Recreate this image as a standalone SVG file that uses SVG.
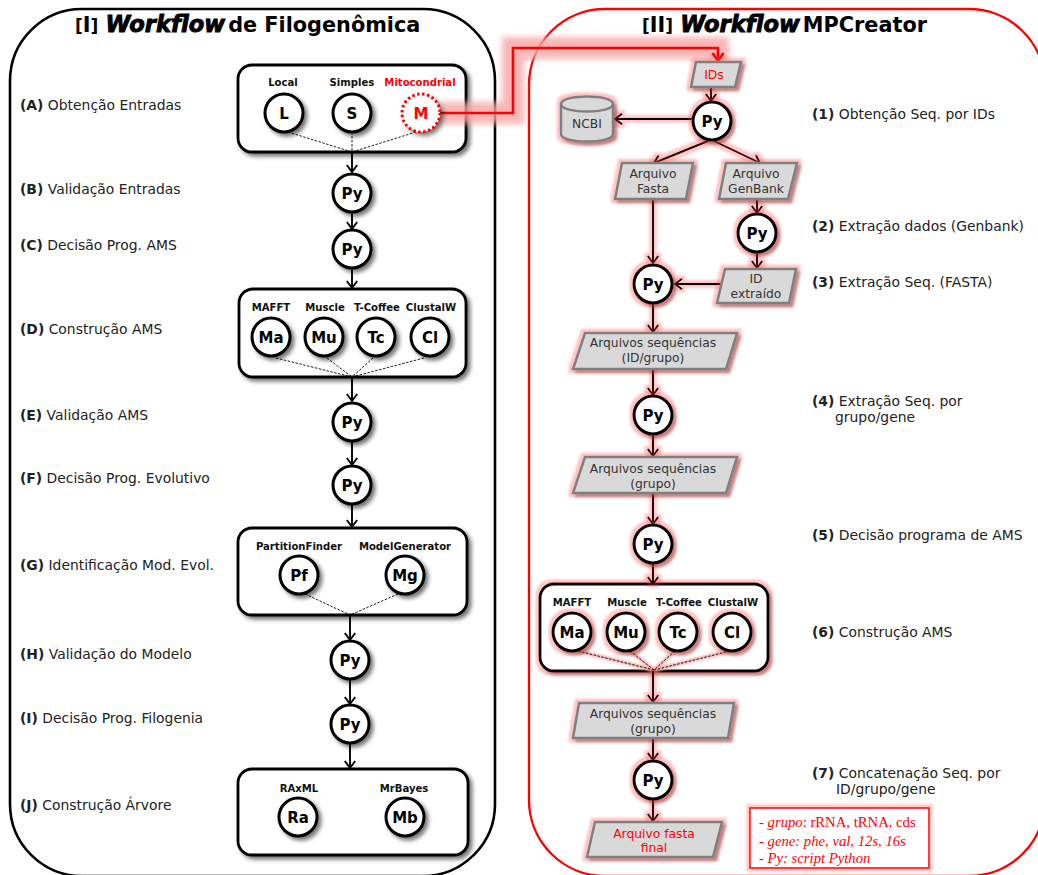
<svg xmlns="http://www.w3.org/2000/svg" width="1038" height="875" viewBox="0 0 1038 875">
<style>
text{font-family:"DejaVu Sans","Liberation Sans",sans-serif;fill:#222}
.title{font-size:20.8px;font-weight:bold;fill:#000}
.wf{font-size:22.6px;font-style:italic;font-weight:bold;stroke:#000;stroke-width:.9px}
.lab{font-size:13.9px}
.lab .b{font-weight:bold}
.tool{font-size:10.1px;font-weight:bold;text-anchor:middle;fill:#111}
.c{fill:#fff;stroke:#000;stroke-width:3}
.ct{font-size:15px;font-weight:bold;text-anchor:middle;fill:#000}
.box{fill:#fff;stroke:#000;stroke-width:2.8}
.file{fill:#d9d9d9;stroke:#7f7f7f;stroke-width:2.5}
.ft{font-size:12.3px;text-anchor:middle;fill:#333}
.red{fill:#f00}
.arrow{fill:none;stroke:#000;stroke-width:1.9;marker-end:url(#a)}
.dash{fill:none;stroke:#000;stroke-width:.9;stroke-dasharray:2.5 1.5}
.halo{fill:none;stroke:#f7b5b5;stroke-width:4;filter:url(#bs)}
.leg{font-family:"Liberation Serif",serif;font-size:14.7px;fill:#f00}
.leg .i{font-style:italic}
.s{filter:url(#sh)}
.g{filter:url(#gl)}
</style>
<defs>
<marker id="a" markerUnits="userSpaceOnUse" markerWidth="14" markerHeight="14" refX="10" refY="6" orient="auto">
<path d="M3 .8 L10 6 L3 11.2" fill="none" stroke="#000" stroke-width="1.9"/>
</marker>
<marker id="ar" markerUnits="userSpaceOnUse" markerWidth="16" markerHeight="16" refX="11" refY="7" orient="auto">
<path d="M3 1.5 L11 7 L3 12.5" fill="none" stroke="#f00" stroke-width="2.6"/>
</marker>
<filter id="sh" filterUnits="userSpaceOnUse" x="0" y="0" width="1038" height="875">
<feGaussianBlur in="SourceAlpha" stdDeviation="2"/>
<feOffset dx="3" dy="3"/>
<feComponentTransfer><feFuncA type="linear" slope=".55"/></feComponentTransfer>
<feMerge><feMergeNode/><feMergeNode in="SourceGraphic"/></feMerge>
</filter>
<filter id="gl" filterUnits="userSpaceOnUse" x="0" y="0" width="1038" height="875">
<feMorphology in="SourceAlpha" operator="dilate" radius="3" result="d"/>
<feGaussianBlur in="d" stdDeviation="1.3" result="b"/>
<feFlood flood-color="#f44" flood-opacity=".32"/>
<feComposite in2="b" operator="in" result="g"/>
<feGaussianBlur in="SourceAlpha" stdDeviation="1.6"/>
<feOffset dx="2.5" dy="2.5"/>
<feComponentTransfer result="s"><feFuncA type="linear" slope=".4"/></feComponentTransfer>
<feMerge><feMergeNode in="g"/><feMergeNode in="s"/><feMergeNode in="SourceGraphic"/></feMerge>
</filter>
<filter id="gl2" filterUnits="userSpaceOnUse" x="0" y="0" width="1038" height="875">
<feMorphology in="SourceAlpha" operator="dilate" radius="2.5" result="d"/>
<feGaussianBlur in="d" stdDeviation="1.3" result="b"/>
<feFlood flood-color="#f44" flood-opacity=".3"/>
<feComposite in2="b" operator="in" result="g"/>
<feMerge><feMergeNode in="g"/><feMergeNode in="SourceGraphic"/></feMerge>
</filter>
<filter id="bl" filterUnits="userSpaceOnUse" x="0" y="0" width="1038" height="875"><feGaussianBlur stdDeviation="3"/></filter>
<filter id="bs" filterUnits="userSpaceOnUse" x="0" y="0" width="1038" height="875"><feGaussianBlur stdDeviation="1"/></filter>
</defs>

<rect width="1038" height="875" fill="#fff"/>
<g id="panel-1">
<rect x="10" y="9" width="485" height="867" rx="72" fill="#fff" stroke="#000" stroke-width="2.6"/>
<text class="title" x="75" y="32"><tspan font-size="17">[</tspan>I<tspan font-size="17">]</tspan> <tspan class="wf">Workflow</tspan><tspan dx="3">de Filogenômica</tspan></text>
</g>
<g id="panel-2">
<rect x="529" y="9" width="516" height="867" rx="76" fill="none" stroke="#f00" stroke-width="2.4"/>
<text class="title" x="642" y="32"><tspan font-size="17">[</tspan>II<tspan font-size="17">]</tspan> <tspan class="wf">Workflow</tspan><tspan dx="3">MPCreator</tspan></text>
</g>

<g id="step-labels">
<text class="lab" x="20" y="110"><tspan class="b">(A)</tspan> Obtenção Entradas</text>
<text class="lab" x="20" y="194"><tspan class="b">(B)</tspan> Validação Entradas</text>
<text class="lab" x="20" y="250"><tspan class="b">(C)</tspan> Decisão Prog. AMS</text>
<text class="lab" x="20" y="334"><tspan class="b">(D)</tspan> Construção AMS</text>
<text class="lab" x="20" y="420"><tspan class="b">(E)</tspan> Validação AMS</text>
<text class="lab" x="20" y="483"><tspan class="b">(F)</tspan> Decisão Prog. Evolutivo</text>
<text class="lab" x="20" y="570"><tspan class="b">(G)</tspan> Identificação Mod. Evol.</text>
<text class="lab" x="20" y="659"><tspan class="b">(H)</tspan> Validação do Modelo</text>
<text class="lab" x="20" y="723"><tspan class="b">(I)</tspan> Decisão Prog. Filogenia</text>
<text class="lab" x="20" y="810"><tspan class="b">(J)</tspan> Construção Árvore</text>
<text class="lab" x="812" y="119"><tspan class="b">(1)</tspan> Obtenção Seq. por IDs</text>
<text class="lab" x="812" y="231"><tspan class="b">(2)</tspan> Extração dados (Genbank)</text>
<text class="lab" x="812" y="287"><tspan class="b">(3)</tspan> Extração Seq. (FASTA)</text>
<text class="lab" x="812" y="406"><tspan class="b">(4)</tspan> Extração Seq. por</text>
<text class="lab" x="835" y="422">grupo/gene</text>
<text class="lab" x="812" y="540"><tspan class="b">(5)</tspan> Decisão programa de AMS</text>
<text class="lab" x="812" y="637"><tspan class="b">(6)</tspan> Construção AMS</text>
<text class="lab" x="812" y="778"><tspan class="b">(7)</tspan> Concatenação Seq. por</text>
<text class="lab" x="836" y="794">ID/grupo/gene</text>
</g>

<g id="boxes">
<rect id="box-a" class="box s" x="238" y="65" width="228" height="87" rx="14"/>
<rect id="box-d" class="box s" x="239" y="289" width="227" height="88" rx="14"/>
<rect id="box-g" class="box s" x="238" y="528" width="229" height="87" rx="14"/>
<rect id="box-j" class="box s" x="238" y="769" width="230" height="86" rx="14"/>
<rect id="box-6" class="box g" x="540" y="584" width="228" height="87" rx="14"/>
</g>

<g id="mito-link" fill="none">
<path d="M440 113H513V48H718V62" stroke="#f7a3a3" stroke-width="22" opacity=".8" filter="url(#bl)"/>
<path d="M440 113H513V48H718V61" stroke="#f00" stroke-width="2.6" marker-end="url(#ar)"/>
</g>

<g id="connectors">
<g id="left-connectors">
<path class="dash" d="M288 132L352 152M352 132V152M416 132L352 152"/>
<path class="arrow" d="M352 152V172"/><path class="arrow" d="M352 212V229"/><path class="arrow" d="M352 268V288"/>
<path class="dash" d="M276 358L352 377M327 358L352 377M373 358L352 377M424 358L352 377"/>
<path class="arrow" d="M352 377V401"/><path class="arrow" d="M352 441V465"/><path class="arrow" d="M352 504V527"/>
<path class="dash" d="M305 594L350 615M398 594L350 615"/>
<path class="arrow" d="M350 615V640"/><path class="arrow" d="M350 680V704"/><path class="arrow" d="M350 743V768"/>
</g>
<g id="right-connectors">
<path class="halo" d="M578 651L654 670M630 651L654 670M675 651L654 670M730 651L654 670"/>
<path class="dash" d="M578 651L654 670M630 651L654 670M675 651L654 670M730 651L654 670"/>
<g filter="url(#gl2)">
<path class="arrow" d="M711 87V101"/><path class="arrow" d="M692 119H615"/>
<path class="arrow" d="M708 141L654 163"/><path class="arrow" d="M714 141L760 163"/>
<path class="arrow" d="M653 199V263"/><path class="arrow" d="M757 199V213"/><path class="arrow" d="M757 253V268"/>
<path class="arrow" d="M722 284H675"/><path class="arrow" d="M653 304V332"/><path class="arrow" d="M653 369V395"/>
<path class="arrow" d="M653 435V456"/><path class="arrow" d="M653 493V524"/><path class="arrow" d="M653 564V584"/>
<path class="arrow" d="M653 671V702"/><path class="arrow" d="M653 738V760"/><path class="arrow" d="M653 800V821"/>
</g>
</g>
</g>

<g id="node-L"><circle class="c s" cx="284" cy="113" r="19"/><text class="ct" x="284" y="119">L</text><text class="tool" x="283" y="86">Local</text></g>
<g id="node-S"><circle class="c s" cx="352" cy="113" r="19"/><text class="ct" x="352" y="119">S</text><text class="tool" x="352" y="86">Simples</text></g>
<g id="node-M"><circle class="s" cx="421" cy="113" r="19" fill="#fff" stroke="#f00" stroke-width="3" stroke-dasharray="2.5 2.5"/><text class="ct red" x="421" y="119">M</text><text class="tool red" x="420" y="86">Mitocondrial</text></g>
<g id="node-py-b"><circle class="c s" cx="352" cy="193" r="19"/><text class="ct" x="352" y="199">Py</text></g>
<g id="node-py-c"><circle class="c s" cx="352" cy="249" r="19"/><text class="ct" x="352" y="255">Py</text></g>
<g id="node-ma"><circle class="c s" cx="271" cy="337" r="19"/><text class="ct" x="271" y="343">Ma</text><text class="tool" x="271" y="311">MAFFT</text></g>
<g id="node-mu"><circle class="c s" cx="324" cy="337" r="19"/><text class="ct" x="324" y="343">Mu</text><text class="tool" x="325" y="311">Muscle</text></g>
<g id="node-tc"><circle class="c s" cx="376" cy="337" r="19"/><text class="ct" x="376" y="343">Tc</text><text class="tool" x="377" y="311">T-Coffee</text></g>
<g id="node-cl"><circle class="c s" cx="430" cy="337" r="19"/><text class="ct" x="430" y="343">Cl</text><text class="tool" x="431" y="311">ClustalW</text></g>
<g id="node-py-e"><circle class="c s" cx="352" cy="422" r="19"/><text class="ct" x="352" y="428">Py</text></g>
<g id="node-py-f"><circle class="c s" cx="352" cy="485" r="19"/><text class="ct" x="352" y="491">Py</text></g>
<g id="node-pf"><circle class="c s" cx="299" cy="575" r="19"/><text class="ct" x="299" y="581">Pf</text><text class="tool" x="299" y="550">PartitionFinder</text></g>
<g id="node-mg"><circle class="c s" cx="405" cy="575" r="19"/><text class="ct" x="405" y="581">Mg</text><text class="tool" x="405" y="550">ModelGenerator</text></g>
<g id="node-py-h"><circle class="c s" cx="350" cy="660" r="19"/><text class="ct" x="350" y="666">Py</text></g>
<g id="node-py-i"><circle class="c s" cx="350" cy="724" r="19"/><text class="ct" x="350" y="730">Py</text></g>
<g id="node-ra"><circle class="c s" cx="298" cy="817" r="19"/><text class="ct" x="298" y="823">Ra</text><text class="tool" x="299" y="792">RAxML</text></g>
<g id="node-mb"><circle class="c s" cx="405" cy="817" r="19"/><text class="ct" x="405" y="823">Mb</text><text class="tool" x="404" y="792">MrBayes</text></g>

<g id="node-ids"><path class="file g" d="M696 62H741L735 87H691Z"/><text class="ft red" x="714" y="79">IDs</text></g>
<g id="node-ncbi"><path class="file g" d="M561 104C561 94 613 94 613 104V134C613 144 561 144 561 134Z"/><path d="M561 104C561 114 613 114 613 104" fill="none" stroke="#7f7f7f" stroke-width="2.5"/><text class="ft" x="587" y="128">NCBI</text></g>
<g id="node-py-1"><circle class="c g" cx="712" cy="121" r="19"/><text class="ct" x="712" y="127">Py</text></g>
<g id="node-fasta"><path class="file g" d="M622 163H693L686 199H615Z"/><text class="ft" x="653" y="178">Arquivo</text><text class="ft" x="653" y="193">Fasta</text></g>
<g id="node-genbank"><path class="file g" d="M726 163H797L788 199H719Z"/><text class="ft" x="756" y="178">Arquivo</text><text class="ft" x="756" y="193">GenBank</text></g>
<g id="node-py-2"><circle class="c g" cx="757" cy="233" r="19"/><text class="ct" x="757" y="239">Py</text></g>
<g id="node-idx"><path class="file g" d="M725 269H796L789 303H717Z"/><text class="ft" x="756" y="283">ID</text><text class="ft" x="756" y="298">extraído</text></g>
<g id="node-py-3"><circle class="c g" cx="653" cy="284" r="19"/><text class="ct" x="653" y="290">Py</text></g>
<g id="node-seq1"><path class="file g" d="M585 333H737L726 369H573Z"/><text class="ft" x="653" y="347">Arquivos sequências</text><text class="ft" x="653" y="362">(ID/grupo)</text></g>
<g id="node-py-4"><circle class="c g" cx="653" cy="415" r="19"/><text class="ct" x="653" y="421">Py</text></g>
<g id="node-seq2"><path class="file g" d="M585 457H737L726 493H573Z"/><text class="ft" x="653" y="473">Arquivos sequências</text><text class="ft" x="653" y="488">(grupo)</text></g>
<g id="node-py-5"><circle class="c g" cx="653" cy="544" r="19"/><text class="ct" x="653" y="550">Py</text></g>
<g id="node-ma2"><circle class="c g" cx="572" cy="632" r="19"/><text class="ct" x="572" y="638">Ma</text><text class="tool" x="572" y="606">MAFFT</text></g>
<g id="node-mu2"><circle class="c g" cx="626" cy="632" r="19"/><text class="ct" x="626" y="638">Mu</text><text class="tool" x="627" y="606">Muscle</text></g>
<g id="node-tc2"><circle class="c g" cx="678" cy="632" r="19"/><text class="ct" x="678" y="638">Tc</text><text class="tool" x="679" y="606">T-Coffee</text></g>
<g id="node-cl2"><circle class="c g" cx="732" cy="632" r="19"/><text class="ct" x="732" y="638">Cl</text><text class="tool" x="733" y="606">ClustalW</text></g>
<g id="node-seq3"><path class="file g" d="M579 703H734L728 738H573Z"/><text class="ft" x="653" y="718">Arquivos sequências</text><text class="ft" x="653" y="733">(grupo)</text></g>
<g id="node-py-7"><circle class="c g" cx="653" cy="780" r="19"/><text class="ct" x="653" y="786">Py</text></g>
<g id="node-final"><path class="file g" d="M595 822H722L713 857H587Z"/><text class="ft red" x="654" y="838">Arquivo fasta</text><text class="ft red" x="654" y="852">final</text></g>

<g id="legend">
<rect x="750" y="808" width="179" height="60" fill="#fff" stroke="#f00" stroke-width="1.5" filter="url(#gl2)"/>
<text class="leg" x="759" y="827">- <tspan class="i">grupo</tspan>: rRNA, tRNA, cds</text>
<text class="leg" x="759" y="846" font-style="italic">- gene: phe, val, 12s, 16s</text>
<text class="leg" x="759" y="863" font-style="italic">- Py: script Python</text>
</g>
</svg>
